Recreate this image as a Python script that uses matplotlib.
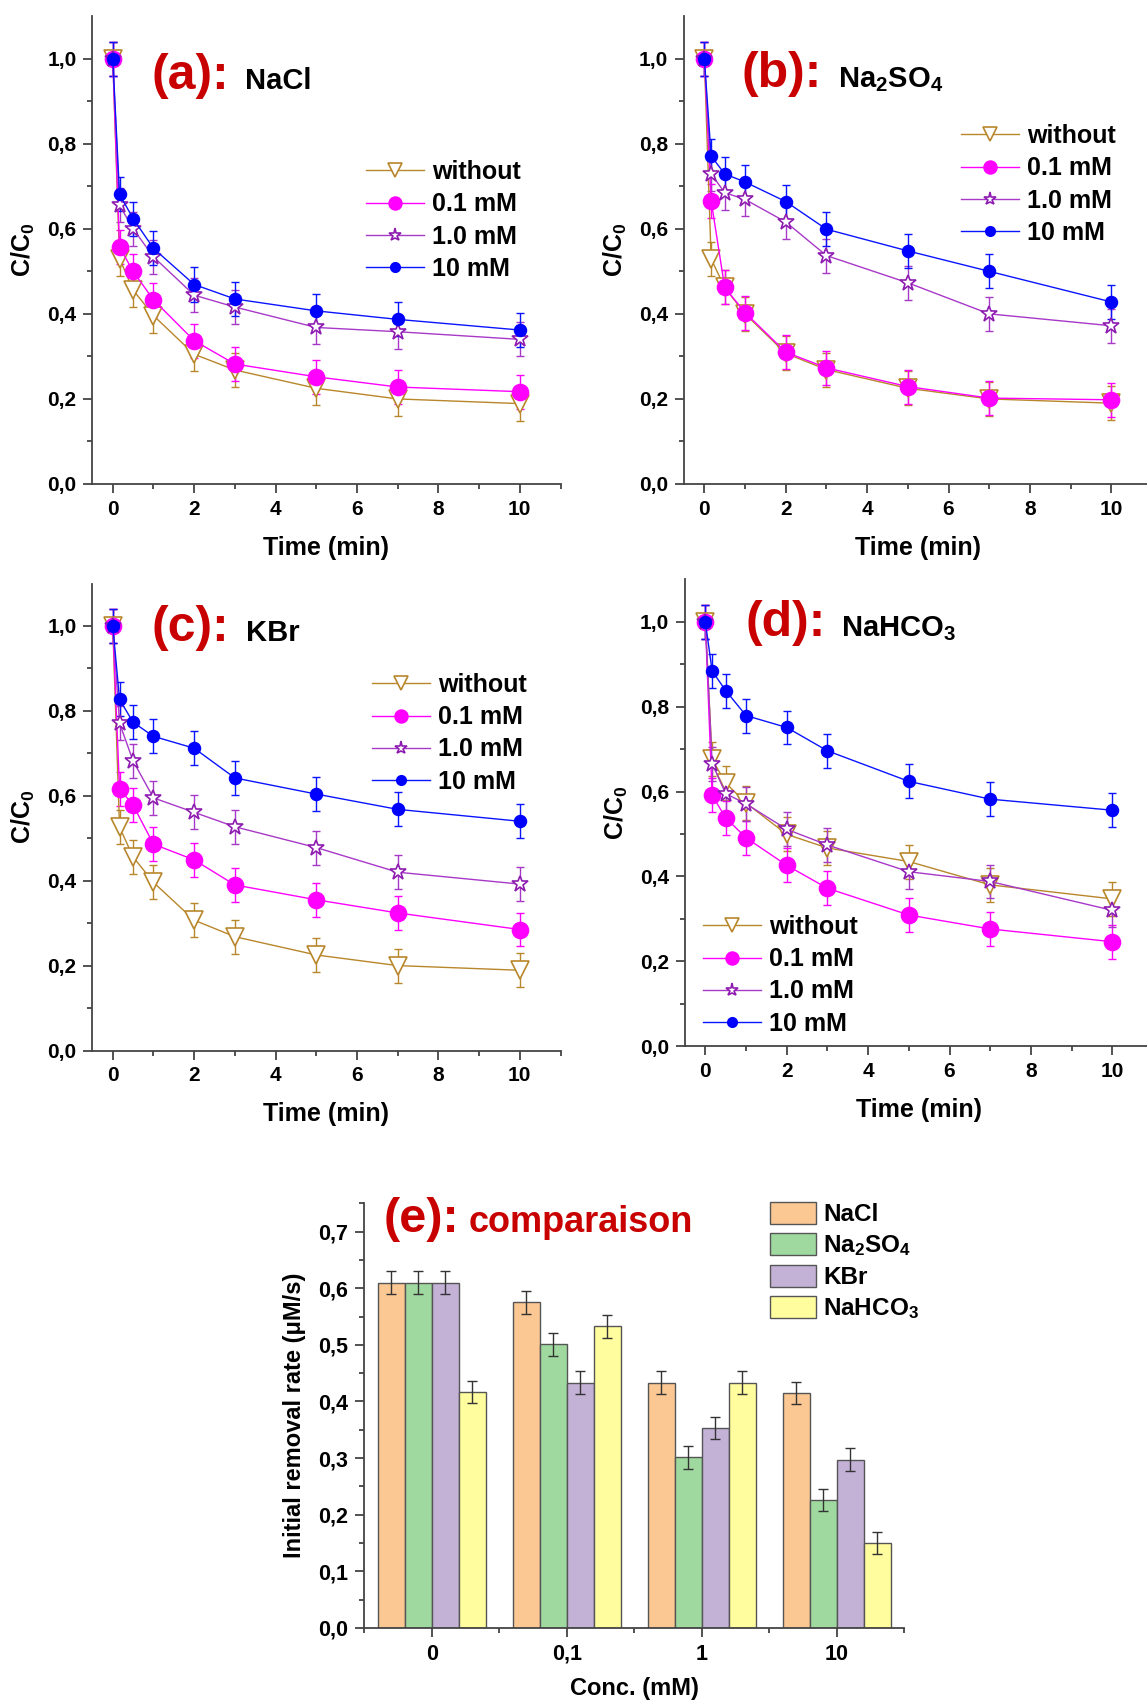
import matplotlib
matplotlib.use("Agg")
import matplotlib.pyplot as plt
from matplotlib.ticker import MultipleLocator, FixedLocator, FuncFormatter
from matplotlib.patches import Patch
from matplotlib.lines import Line2D
import numpy as np

plt.rcParams['font.family'] = ['Liberation Sans', 'DejaVu Sans']
plt.rcParams['font.weight'] = 'bold'
plt.rcParams['mathtext.fontset'] = 'custom'
plt.rcParams['mathtext.rm'] = 'Liberation Sans:bold'
plt.rcParams['mathtext.bf'] = 'Liberation Sans:bold'
plt.rcParams['mathtext.it'] = 'Liberation Sans:bold'
plt.rcParams['mathtext.default'] = 'bf'

# ---- kinetic data: C/C0 vs time (min) ----
time = [0, 0.167, 0.5, 1, 2, 3, 5, 7, 10]
series_labels = ["without", "0.1 mM", "1.0 mM", "10 mM"]

nacl_without = [1.0, 0.530, 0.456, 0.396, 0.305, 0.268, 0.225, 0.200, 0.189]
nacl_01 = [1.0, 0.557, 0.500, 0.433, 0.337, 0.282, 0.252, 0.228, 0.217]
nacl_1 = [1.0, 0.655, 0.600, 0.534, 0.444, 0.416, 0.368, 0.358, 0.340]
nacl_10 = [1.0, 0.681, 0.624, 0.554, 0.469, 0.435, 0.407, 0.387, 0.362]

na2so4_without = [1.0, 0.529, 0.462, 0.400, 0.307, 0.269, 0.225, 0.200, 0.190]
na2so4_01 = [1.0, 0.666, 0.462, 0.403, 0.310, 0.273, 0.229, 0.202, 0.198]
na2so4_1 = [1.0, 0.729, 0.685, 0.669, 0.616, 0.537, 0.473, 0.400, 0.372]
na2so4_10 = [1.0, 0.771, 0.729, 0.710, 0.664, 0.599, 0.548, 0.500, 0.428]

kbr_without = [1.0, 0.526, 0.456, 0.396, 0.307, 0.268, 0.225, 0.200, 0.189]
kbr_01 = [1.0, 0.616, 0.578, 0.486, 0.449, 0.390, 0.355, 0.324, 0.285]
kbr_1 = [1.0, 0.771, 0.682, 0.595, 0.561, 0.527, 0.478, 0.420, 0.392]
kbr_10 = [1.0, 0.827, 0.773, 0.740, 0.712, 0.642, 0.604, 0.568, 0.540]

nahco3_without = [1.0, 0.676, 0.620, 0.573, 0.499, 0.467, 0.435, 0.380, 0.347]
nahco3_01 = [1.0, 0.591, 0.538, 0.491, 0.426, 0.372, 0.309, 0.276, 0.246]
nahco3_1 = [1.0, 0.666, 0.595, 0.571, 0.511, 0.474, 0.411, 0.388, 0.320]
nahco3_10 = [1.0, 0.884, 0.838, 0.779, 0.751, 0.696, 0.624, 0.582, 0.556]

# standard deviation of C/C0 (same for every sampling point)
cc0_err = [0.04, 0.04, 0.04, 0.04, 0.04, 0.04, 0.04, 0.04, 0.04]

# ---- initial removal rates (uM/s) ----
conc_labels = ["0", "0,1", "1", "10"]
rate_nacl = [0.610, 0.575, 0.433, 0.415]
rate_na2so4 = [0.610, 0.501, 0.301, 0.226]
rate_kbr = [0.610, 0.433, 0.353, 0.297]
rate_nahco3 = [0.417, 0.533, 0.433, 0.150]
rate_err = [0.02, 0.02, 0.02, 0.02]
salt_labels = ["NaCl", "Na$_2$SO$_4$", "KBr", "NaHCO$_3$"]

# ---- styling ----
W, H = 1147, 1702
RED = "#C80000"
styles = [
    dict(color="#B8862B", marker="v", ms=13, mfc="white", mec="#B8862B"),
    dict(color="#FF00FF", marker="o", ms=11.5, mfc="#FF00FF", mec="#FF00FF"),
    dict(color="#A838C8", marker="*", ms=12, mfc="white", mec="#8E1CB0"),
    dict(color="#0A14FF", marker="o", ms=8.5, mfc="#0000FF", mec="#0000FF"),
]
bar_colors = ["#FBC893", "#9FD99F", "#C3B1D6", "#FFFD9E"]

comma = FuncFormatter(lambda v, p: f"{v:.1f}".replace(".", ","))


def px_axes(x0, y_top, x1, y_bot):
    return [x0 / W, 1 - y_bot / H, (x1 - x0) / W, (y_bot - y_top) / H]


def style_spines(ax, size=15):
    for s in ("top", "right"):
        ax.spines[s].set_visible(False)
    for s in ("left", "bottom"):
        ax.spines[s].set_color("#444444")
        ax.spines[s].set_linewidth(1.3)
    ax.tick_params(which="both", direction="out", color="#444444", width=1.3)
    ax.tick_params(which="major", length=6.5, labelsize=size, pad=5)
    ax.tick_params(which="minor", length=3.5)
    for lab in ax.get_xticklabels() + ax.get_yticklabels():
        lab.set_fontweight("bold")


fig = plt.figure(figsize=(W / 100, H / 100), dpi=100)

panels = [
    dict(data=[nacl_without, nacl_01, nacl_1, nacl_10],
         rect=(92.4, 16.1, 560.5, 484.0), tag="(a):", name="NaCl",
         tag_xy=(151, 89), name_x=245, leg=(366, 160)),
    dict(data=[na2so4_without, na2so4_01, na2so4_1, na2so4_10],
         rect=(684.0, 16.1, 1152.0, 484.0), tag="(b):", name="Na$_2$SO$_4$",
         tag_xy=(742, 87), name_x=838, leg=(961, 124)),
    dict(data=[kbr_without, kbr_01, kbr_1, kbr_10],
         rect=(92.4, 583.5, 560.5, 1050.5), tag="(c):", name="KBr",
         tag_xy=(151, 641), name_x=246, leg=(372, 673)),
    dict(data=[nahco3_without, nahco3_01, nahco3_1, nahco3_10],
         rect=(685.0, 579.4, 1153.0, 1046.1), tag="(d):", name="NaHCO$_3$",
         tag_xy=(745, 636), name_x=841, leg=(703, 915)),
]

for p in panels:
    ax = fig.add_axes(px_axes(*p["rect"]))
    handles = []
    for vals, st, lab in zip(p["data"], styles, series_labels):
        ax.errorbar(time, vals, yerr=cc0_err, fmt="none", ecolor=st["color"],
                    elinewidth=1.0, capsize=3, capthick=1.0, zorder=2)
        ax.plot(time, vals, color=st["color"], lw=1.0, marker=st["marker"],
                ms=st["ms"], mfc=st["mfc"], mec=st["mec"], mew=1.2, zorder=3)
        handles.append(Line2D([], [], color=st["color"], lw=1.0,
                              marker=st["marker"], ms=st["ms"] * 0.8,
                              mfc=st["mfc"], mec=st["mec"], mew=1.2, label=lab))
    ax.set_xlim(-0.5, 11)
    ax.set_ylim(0, 1.1)
    ax.xaxis.set_major_locator(MultipleLocator(2))
    ax.xaxis.set_minor_locator(MultipleLocator(1))
    ax.yaxis.set_major_locator(FixedLocator([0, 0.2, 0.4, 0.6, 0.8, 1.0]))
    ax.yaxis.set_minor_locator(FixedLocator([0.1, 0.3, 0.5, 0.7, 0.9]))
    ax.yaxis.set_major_formatter(comma)
    style_spines(ax)
    ax.set_xlabel("Time (min)", fontsize=18, fontweight="bold", labelpad=12)
    ax.set_ylabel("C/C$_0$", fontsize=18, fontweight="bold", labelpad=7)

    lx, ly = p["leg"]
    fig.legend(handles=handles, loc="upper left",
               bbox_to_anchor=(lx / W, 1 - ly / H), frameon=False,
               borderpad=0, borderaxespad=0, handlelength=2.3,
               handletextpad=0.35, labelspacing=0.33,
               prop=dict(weight="bold", size=18))

    tx, ty = p["tag_xy"]
    fig.text(tx / W, 1 - ty / H, p["tag"], color=RED, fontsize=36,
             fontweight="bold", va="baseline", ha="left")
    fig.text(p["name_x"] / W, 1 - ty / H, p["name"], color="black",
             fontsize=21, fontweight="bold", va="baseline", ha="left")

# ---- bar chart of initial removal rates ----
axe = fig.add_axes(px_axes(364.4, 1203.4, 904.0, 1627.8))
x = np.arange(len(conc_labels))
bw = 0.2
rates = [rate_nacl, rate_na2so4, rate_kbr, rate_nahco3]
for i, (vals, col, lab) in enumerate(zip(rates, bar_colors, salt_labels)):
    axe.bar(x + (i - 1.5) * bw, vals, width=bw, color=col, edgecolor="#555555",
            linewidth=1.0, label=lab, zorder=2,
            yerr=rate_err, error_kw=dict(ecolor="#333333", elinewidth=1.0,
                                         capsize=3.5, capthick=1.0))
axe.set_xlim(-0.5, 3.5)
axe.set_ylim(0, 0.75)
axe.set_xticks(x)
axe.set_xticklabels(conc_labels)
axe.xaxis.set_minor_locator(FixedLocator([-0.5, 0.5, 1.5, 2.5, 3.5]))
axe.yaxis.set_major_locator(MultipleLocator(0.1))
axe.yaxis.set_minor_locator(MultipleLocator(0.05))
axe.yaxis.set_major_formatter(comma)
style_spines(axe, size=15.5)
axe.set_xlabel("Conc. (mM)", fontsize=17, fontweight="bold", labelpad=9)
axe.set_ylabel("Initial removal rate (\u03bcM/s)", fontsize=17,
               fontweight="bold", labelpad=9)

bar_handles = [Patch(facecolor=c, edgecolor="#555555", linewidth=1.0, label=l)
               for c, l in zip(bar_colors, salt_labels)]
fig.legend(handles=bar_handles, loc="upper left",
           bbox_to_anchor=(770 / W, 1 - 1202 / H), frameon=False,
           borderpad=0, borderaxespad=0, handlelength=1.9, handleheight=1.0,
           handletextpad=0.3, labelspacing=0.28,
           prop=dict(weight="bold", size=17.5))

fig.text(384 / W, 1 - 1232 / H, "(e):", color=RED, fontsize=35,
         fontweight="bold", va="baseline", ha="left")
fig.text(469 / W, 1 - 1232 / H, "comparaison", color=RED, fontsize=26,
         fontweight="bold", va="baseline", ha="left")

fig.savefig("out.png", dpi=100)
